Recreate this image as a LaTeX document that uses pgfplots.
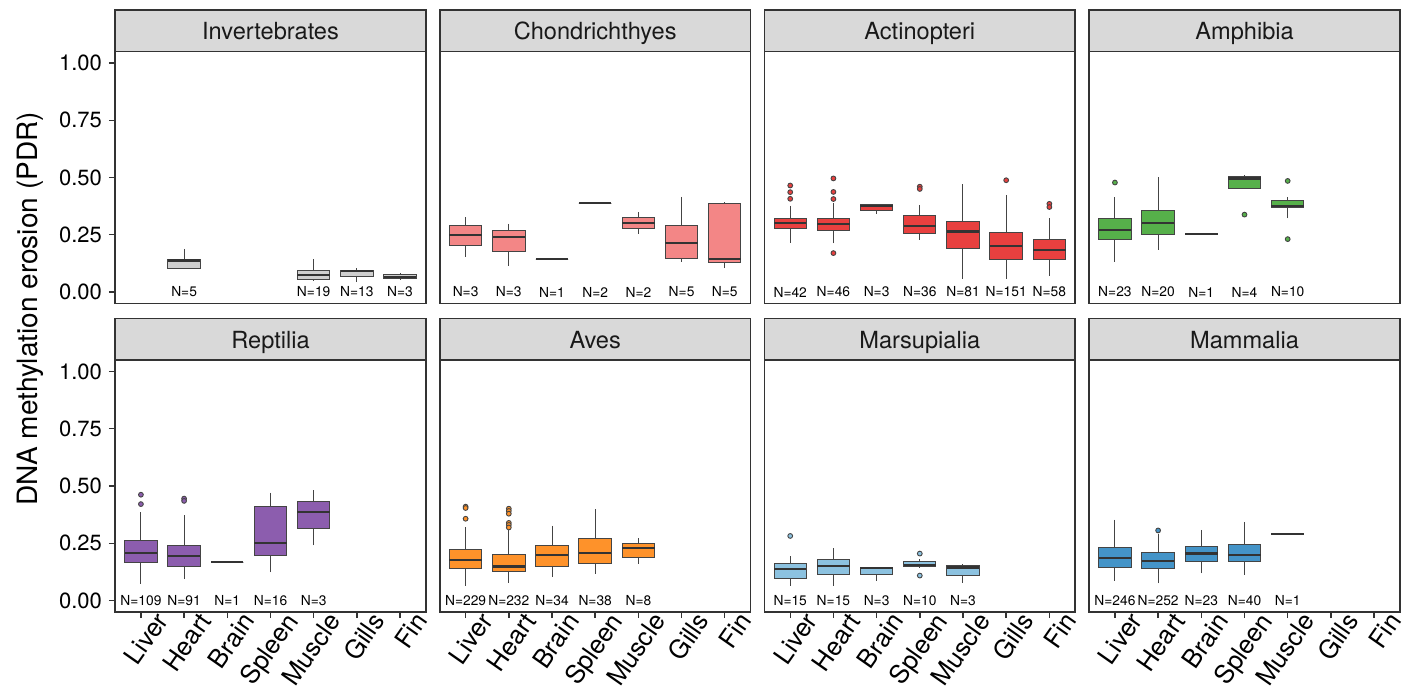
\documentclass[border=0pt]{standalone}
\usepackage{fontspec}
\setmainfont{TeX Gyre Heros}
\usepackage{pgfplots}
\pgfplotsset{compat=1.18}
\usepgfplotslibrary{statistics}

\definecolor{frame}{HTML}{333333}
\definecolor{boxline}{HTML}{444444}
\definecolor{stripgray}{HTML}{D9D9D9}
\definecolor{cInv}{HTML}{CFCFCF}
\definecolor{cCho}{HTML}{F38686}
\definecolor{cAct}{HTML}{E8403F}
\definecolor{cAmp}{HTML}{56B04A}
\definecolor{cRep}{HTML}{8C5DAE}
\definecolor{cAve}{HTML}{FE922A}
\definecolor{cMar}{HTML}{8CC2E0}
\definecolor{cMam}{HTML}{4494C8}

\newcommand{\xl}{\fontsize{12.8}{15}\selectfont}

% box: pos, lower whisker, lower quartile, median, upper quartile, upper whisker, colour
\newcommand{\bx}[7]{\addplot[boxplot prepared={draw position=#1, lower whisker=#2, lower quartile=#3, median=#4, upper quartile=#5, upper whisker=#6, box extend=0.75, whisker extend=0, draw direction=y}, fill=#7, draw=boxline, line width=0.5pt, mark=*, mark size=1.2pt, mark options={fill=#7, draw=boxline, line width=0.45pt, solid}]}

\pgfplotsset{
  facet/.style={
    scale only axis, width=155.5pt, height=126pt,
    xmin=-0.6, xmax=6.6, ymin=-0.05, ymax=1.05,
    anchor=north west, clip=false,
    boxplot/draw direction=y,
    axis line style={draw=frame, line width=0.8pt},
    tick style={draw=frame, line width=0.7pt},
    tick align=outside, major tick length=3pt,
    xtick=\empty, ytick=\empty,
    xtick pos=bottom, ytick pos=left,
    yticklabel style={font=\fontsize{11}{13}\selectfont, text=black},
    boxplot/every median/.style={draw=frame, line width=1.1pt},
  },
  leftcol/.style={ytick={0,0.25,0.5,0.75,1}, yticklabels={0.00,0.25,0.50,0.75,1.00}},
  bottomrow/.style={xtick={0,1,2,3,4,5,6},
    xticklabels={{\xl Liver},{\xl Heart},{\xl Brain},{\xl Spleen},{\xl Muscle},{\xl Gills},{\xl Fin}},
    xticklabel style={rotate=55, anchor=north east, text=black, inner sep=0pt, xshift=7pt, yshift=-3pt}},
}
\tikzset{nlab/.style={font=\fontsize{6.9}{8}\selectfont, text=black, inner sep=0pt}}
\newcommand{\strip}[2]{%
  \draw[fill=stripgray, draw=frame, line width=0.8pt] (#1.north west) rectangle ([yshift=20.75pt]#1.north east);
  \node[font=\fontsize{11.8}{14}\selectfont, text=black!90, anchor=base, inner sep=0pt] at ([yshift=6pt]#1.north) {#2};}

\begin{document}
\begin{tikzpicture}
\useasboundingbox (0,0) rectangle (704pt,-350pt);

% ---------- Invertebrates
\begin{axis}[facet, leftcol, name=p1, at={(57.5pt,-25.75pt)}]
\bx{1}{0.103}{0.103}{0.138}{0.143}{0.189}{cInv} coordinates {};
\bx{4}{0.050}{0.053}{0.074}{0.095}{0.143}{cInv} coordinates {};
\bx{5}{0.042}{0.066}{0.092}{0.095}{0.103}{cInv} coordinates {};
\bx{6}{0.058}{0.059}{0.065}{0.075}{0.085}{cInv} coordinates {};
\node[nlab] at (axis cs:1,0) {N=5};
\node[nlab] at (axis cs:4,0) {N=19};
\node[nlab] at (axis cs:5,0) {N=13};
\node[nlab] at (axis cs:6,0) {N=3};
\end{axis}
\strip{p1}{Invertebrates}

% ---------- Chondrichthyes
\begin{axis}[facet, name=p2, at={(219.85pt,-25.75pt)}]
\bx{0}{0.155}{0.202}{0.250}{0.289}{0.326}{cCho} coordinates {};
\bx{1}{0.114}{0.178}{0.242}{0.270}{0.299}{cCho} coordinates {};
\bx{2}{0.144}{0.144}{0.144}{0.144}{0.144}{cCho} coordinates {};
\bx{3}{0.388}{0.388}{0.388}{0.388}{0.388}{cCho} coordinates {};
\bx{4}{0.255}{0.279}{0.303}{0.326}{0.348}{cCho} coordinates {};
\bx{5}{0.133}{0.147}{0.214}{0.290}{0.416}{cCho} coordinates {};
\bx{6}{0.103}{0.131}{0.143}{0.388}{0.391}{cCho} coordinates {};
\node[nlab] at (axis cs:0,0) {N=3};
\node[nlab] at (axis cs:1,0) {N=3};
\node[nlab] at (axis cs:2,0) {N=1};
\node[nlab] at (axis cs:3,0) {N=2};
\node[nlab] at (axis cs:4,0) {N=2};
\node[nlab] at (axis cs:5,0) {N=5};
\node[nlab] at (axis cs:6,0) {N=5};
\end{axis}
\strip{p2}{Chondrichthyes}

% ---------- Actinopteri
\begin{axis}[facet, name=p3, at={(382.15pt,-25.75pt)}]
\bx{0}{0.215}{0.276}{0.302}{0.323}{0.377}{cAct} coordinates {(0,0.465) (0,0.436) (0,0.407)};
\bx{1}{0.212}{0.268}{0.297}{0.319}{0.388}{cAct} coordinates {(0,0.496) (0,0.437) (0,0.406) (0,0.170)};
\bx{2}{0.342}{0.358}{0.377}{0.381}{0.384}{cAct} coordinates {};
\bx{3}{0.228}{0.257}{0.289}{0.332}{0.381}{cAct} coordinates {(0,0.460) (0,0.450)};
\bx{4}{0.059}{0.190}{0.264}{0.307}{0.470}{cAct} coordinates {};
\bx{5}{0.059}{0.140}{0.200}{0.258}{0.424}{cAct} coordinates {(0,0.488)};
\bx{6}{0.071}{0.141}{0.182}{0.228}{0.323}{cAct} coordinates {(0,0.385) (0,0.371)};
\node[nlab] at (axis cs:0,0) {N=42};
\node[nlab] at (axis cs:1,0) {N=46};
\node[nlab] at (axis cs:2,0) {N=3};
\node[nlab] at (axis cs:3,0) {N=36};
\node[nlab] at (axis cs:4,0) {N=81};
\node[nlab] at (axis cs:5,0) {N=151};
\node[nlab] at (axis cs:6,0) {N=58};
\end{axis}
\strip{p3}{Actinopteri}

% ---------- Amphibia
\begin{axis}[facet, name=p4, at={(544.5pt,-25.75pt)}]
\bx{0}{0.133}{0.231}{0.270}{0.322}{0.414}{cAmp} coordinates {(0,0.478)};
\bx{1}{0.185}{0.251}{0.303}{0.355}{0.501}{cAmp} coordinates {};
\bx{2}{0.253}{0.253}{0.253}{0.253}{0.253}{cAmp} coordinates {};
\bx{3}{0.452}{0.452}{0.496}{0.505}{0.509}{cAmp} coordinates {(0,0.338)};
\bx{4}{0.322}{0.368}{0.374}{0.400}{0.414}{cAmp} coordinates {(0,0.485) (0,0.231)};
\node[nlab] at (axis cs:0,0) {N=23};
\node[nlab] at (axis cs:1,0) {N=20};
\node[nlab] at (axis cs:2,0) {N=1};
\node[nlab] at (axis cs:3,0) {N=4};
\node[nlab] at (axis cs:4,0) {N=10};
\end{axis}
\strip{p4}{Amphibia}

% ---------- Reptilia
\begin{axis}[facet, leftcol, bottomrow, name=p5, at={(57.5pt,-180pt)}]
\bx{0}{0.073}{0.166}{0.209}{0.261}{0.386}{cRep} coordinates {(0,0.462) (0,0.421)};
\bx{1}{0.093}{0.148}{0.195}{0.241}{0.373}{cRep} coordinates {(0,0.445) (0,0.435)};
\bx{2}{0.167}{0.167}{0.167}{0.167}{0.167}{cRep} coordinates {};
\bx{3}{0.123}{0.195}{0.251}{0.410}{0.471}{cRep} coordinates {};
\bx{4}{0.241}{0.314}{0.388}{0.434}{0.482}{cRep} coordinates {};
\node[nlab] at (axis cs:0,0) {N=109};
\node[nlab] at (axis cs:1,0) {N=91};
\node[nlab] at (axis cs:2,0) {N=1};
\node[nlab] at (axis cs:3,0) {N=16};
\node[nlab] at (axis cs:4,0) {N=3};
\end{axis}
\strip{p5}{Reptilia}

% ---------- Aves
\begin{axis}[facet, bottomrow, name=p6, at={(219.85pt,-180pt)}]
\bx{0}{0.065}{0.139}{0.176}{0.225}{0.322}{cAve} coordinates {(0,0.410) (0,0.404) (0,0.357)};
\bx{1}{0.077}{0.125}{0.149}{0.199}{0.308}{cAve} coordinates {(0,0.401) (0,0.391) (0,0.379) (0,0.339) (0,0.330) (0,0.319)};
\bx{2}{0.102}{0.150}{0.198}{0.240}{0.327}{cAve} coordinates {};
\bx{3}{0.116}{0.160}{0.209}{0.273}{0.399}{cAve} coordinates {};
\bx{4}{0.160}{0.187}{0.229}{0.248}{0.273}{cAve} coordinates {};
\node[nlab] at (axis cs:0,0) {N=229};
\node[nlab] at (axis cs:1,0) {N=232};
\node[nlab] at (axis cs:2,0) {N=34};
\node[nlab] at (axis cs:3,0) {N=38};
\node[nlab] at (axis cs:4,0) {N=8};
\end{axis}
\strip{p6}{Aves}

% ---------- Marsupialia
\begin{axis}[facet, bottomrow, name=p7, at={(382.15pt,-180pt)}]
\bx{0}{0.065}{0.097}{0.139}{0.163}{0.193}{cMar} coordinates {(0,0.282)};
\bx{1}{0.065}{0.112}{0.152}{0.180}{0.228}{cMar} coordinates {};
\bx{2}{0.087}{0.112}{0.141}{0.145}{0.145}{cMar} coordinates {};
\bx{3}{0.141}{0.148}{0.155}{0.169}{0.180}{cMar} coordinates {(0,0.205) (0,0.109)};
\bx{4}{0.077}{0.108}{0.144}{0.152}{0.160}{cMar} coordinates {};
\node[nlab] at (axis cs:0,0) {N=15};
\node[nlab] at (axis cs:1,0) {N=15};
\node[nlab] at (axis cs:2,0) {N=3};
\node[nlab] at (axis cs:3,0) {N=10};
\node[nlab] at (axis cs:4,0) {N=3};
\end{axis}
\strip{p7}{Marsupialia}

% ---------- Mammalia
\begin{axis}[facet, bottomrow, name=p8, at={(544.5pt,-180pt)}]
\bx{0}{0.087}{0.144}{0.184}{0.230}{0.353}{cMam} coordinates {};
\bx{1}{0.075}{0.141}{0.171}{0.208}{0.291}{cMam} coordinates {(0,0.306)};
\bx{2}{0.119}{0.171}{0.205}{0.237}{0.308}{cMam} coordinates {};
\bx{3}{0.113}{0.170}{0.199}{0.245}{0.343}{cMam} coordinates {};
\bx{4}{0.289}{0.289}{0.289}{0.289}{0.289}{cMam} coordinates {};
\node[nlab] at (axis cs:0,0) {N=246};
\node[nlab] at (axis cs:1,0) {N=252};
\node[nlab] at (axis cs:2,0) {N=23};
\node[nlab] at (axis cs:3,0) {N=40};
\node[nlab] at (axis cs:4,0) {N=1};
\end{axis}
\strip{p8}{Mammalia}

\node[rotate=90, font=\fontsize{14}{16}\selectfont, text=black] at (15pt,-154.5pt) {DNA methylation erosion (PDR)};
\end{tikzpicture}
\end{document}
